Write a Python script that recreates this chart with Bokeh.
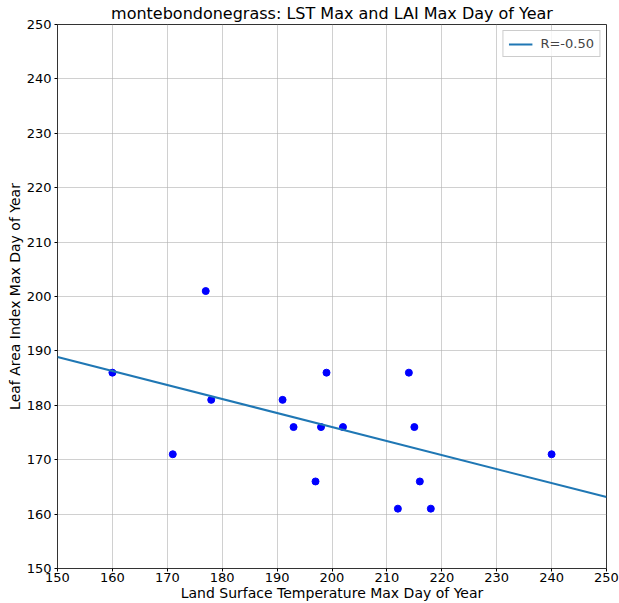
import numpy as np
from bokeh.plotting import figure
from bokeh.models import Range1d, SingleIntervalTicker, Legend, LegendItem, ColumnDataSource
from bokeh.embed import file_html
from bokeh.resources import INLINE

lst_max_doy = [160, 171, 177, 178, 191, 193, 197, 198, 199, 202, 212, 214, 215, 216, 218, 240]
lai_max_doy = [186, 171, 201, 181, 181, 176, 166, 176, 186, 176, 161, 186, 176, 166, 161, 171]
x_range = (150, 250)
y_range = (150, 250)

x = np.array(lst_max_doy, dtype=float)
y = np.array(lai_max_doy, dtype=float)
slope, intercept = np.polyfit(x, y, 1)
r = np.corrcoef(x, y)[0, 1]

FONT = "DejaVu Sans"

p = figure(width=619, height=603, output_backend="svg", toolbar_location=None,
           x_range=Range1d(*x_range), y_range=Range1d(*y_range),
           min_border_left=57, min_border_right=13, min_border_top=5, min_border_bottom=8)

p.title.text = "montebondonegrass: LST Max and LAI Max Day of Year"
p.title.align = "center"
p.title.text_font = FONT
p.title.text_font_size = "16px"
p.title.text_font_style = "normal"
p.title.text_color = "black"
p.title.standoff = 3

p.outline_line_color = "black"
p.outline_line_width = 1
p.outline_line_alpha = 0.8

for ax, lab in ((p.xaxis, "Land Surface Temperature Max Day of Year"),
                (p.yaxis, "Leaf Area Index Max Day of Year")):
    ax.axis_label = lab
    ax.axis_label_text_font = FONT
    ax.axis_label_text_font_size = "14px"
    ax.axis_label_text_font_style = "normal"
    ax.axis_label_text_color = "black"
    ax.major_label_text_font = FONT
    ax.major_label_text_font_size = "13px"
    ax.major_label_text_color = "black"
    ax.ticker = SingleIntervalTicker(interval=10)
    ax.minor_tick_line_color = None
    ax.major_tick_out = 3
    ax.major_tick_in = 0
    ax.major_tick_line_color = "black"
    ax.axis_line_color = None

p.xaxis.major_label_standoff = 0
p.xaxis.axis_label_standoff = 0
p.yaxis.major_label_standoff = 2
p.yaxis.axis_label_standoff = 1

p.grid.grid_line_color = "#b0b0b0"
p.grid.grid_line_alpha = 0.6
p.grid.grid_line_width = 1
p.xgrid.ticker = SingleIntervalTicker(interval=10)
p.ygrid.ticker = SingleIntervalTicker(interval=10)

p.scatter(lst_max_doy, lai_max_doy, size=7, color="#0000ff")

xl = np.array(x_range, dtype=float)
src = ColumnDataSource(dict(x=xl, y=slope * xl + intercept))
ln = p.line("x", "y", source=src, line_color="#1f77b4", line_width=2)

legend = Legend(items=[LegendItem(label=f"R={r:.2f}", renderers=[ln])],
                location="top_right")
legend.label_text_font = FONT
legend.label_text_font_size = "13px"
legend.label_height = 14
legend.glyph_height = 14
legend.border_line_color = "#cccccc"
legend.border_line_alpha = 1
legend.background_fill_alpha = 0.8
legend.glyph_width = 24
legend.margin = 6
legend.padding = 5
legend.spacing = 0
legend.label_standoff = 8
p.add_layout(legend)

open("out.html", "w").write(file_html(p, INLINE))
